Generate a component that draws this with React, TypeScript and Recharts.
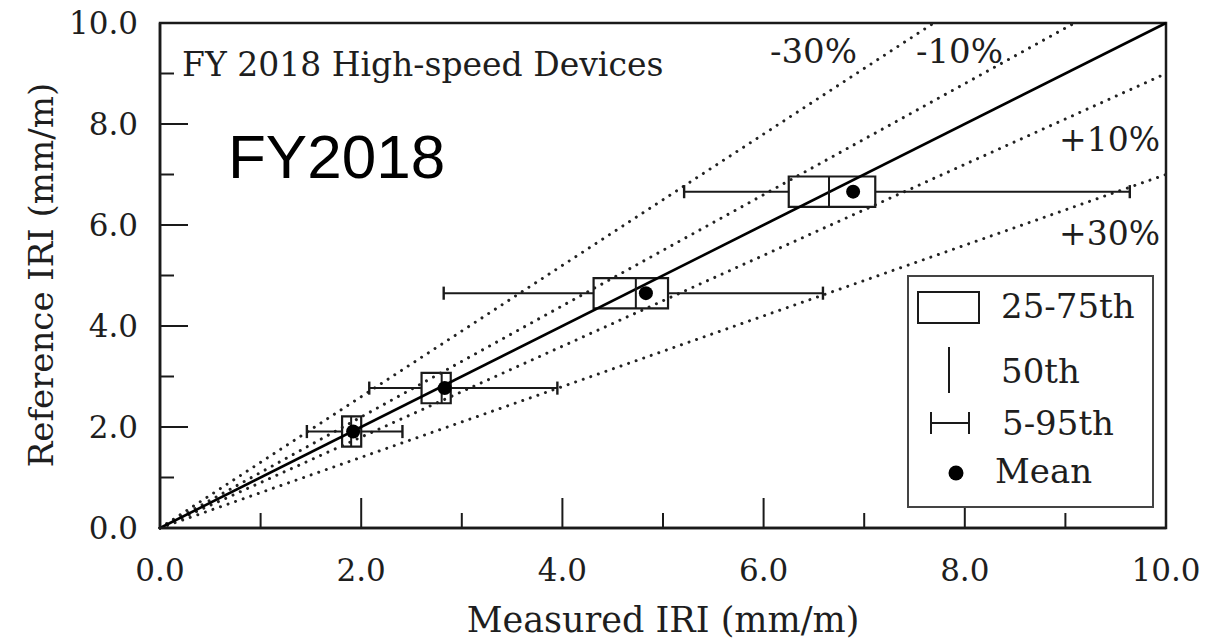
import React from 'react';
import {
  ComposedChart,
  XAxis,
  YAxis,
  Scatter,
  ReferenceLine,
  ReferenceArea,
  Legend,
  Customized,
} from 'recharts';

// Reference IRI (mean) for each bin, and the measured IRI statistics of the devices
const refMean = [1.91, 2.77, 4.65, 6.66];
const measP5 = [1.46, 2.08, 2.82, 5.21];
const measQ25 = [1.81, 2.6, 4.31, 6.25];
const measMedian = [1.9, 2.8, 4.73, 6.65];
const measQ75 = [2.0, 2.89, 5.05, 7.11];
const measP95 = [2.41, 3.95, 6.59, 9.64];
const measMean = [1.92, 2.83, 4.83, 6.89];

// Tolerance bands: reference = slope * measured
const bandLabels = ['-30%', '-10%', '+10%', '+30%'];
const bandSlopes = [1.3, 1.1, 0.9, 0.7];

const axisTicks = [0, 1, 2, 3, 4, 5, 6, 7, 8, 9, 10];
const tickLabels = ['0.0', '', '2.0', '', '4.0', '', '6.0', '', '8.0', '', '10.0'];

const BOX_HALF = 0.3; // half height of each box, in reference-IRI units
const CAP_HALF = 0.13; // half height of whisker caps

const SERIF = "'DejaVu Serif', 'Liberation Serif', serif";
const INK = '#1a1a1a';
const TEXT = '#1e1e1e';

const meanPoints = refMean.map((y, i) => ({ x: measMean[i], y }));

const bandEnds = bandSlopes.map((k) => (k >= 1 ? { x: 10 / k, y: 10 } : { x: 10, y: 10 * k }));

const tickLabel = (v: number) => tickLabels[axisTicks.indexOf(v)] ?? '';

const XTick = (props: any) => {
  const { x, y, payload } = props;
  const v = payload.value as number;
  const major = v % 2 === 0;
  return (
    <g>
      {v > 0 && v < 10 && (
        <line x1={x} x2={x} y1={y} y2={y - (major ? 30 : 15)} stroke={INK} strokeWidth={2} />
      )}
      {major && (
        <text x={x} y={y + 53} textAnchor="middle" fontFamily={SERIF} fontSize={31} fill={TEXT}>
          {tickLabel(v)}
        </text>
      )}
    </g>
  );
};

const YTick = (props: any) => {
  const { x, y, payload } = props;
  const v = payload.value as number;
  const major = v % 2 === 0;
  return (
    <g>
      {v > 0 && v < 10 && (
        <line x1={x} x2={x + (major ? 28 : 14)} y1={y} y2={y} stroke={INK} strokeWidth={2} />
      )}
      {major && (
        <text x={x - 22} y={y} dy="0.36em" textAnchor="end" fontFamily={SERIF} fontSize={31} fill={TEXT}>
          {tickLabel(v)}
        </text>
      )}
    </g>
  );
};

const LegendBox = () => (
  <svg width={247} height={233} style={{ display: 'block' }}>
    <rect x={1} y={1} width={245} height={231} fill="#fff" stroke="#444" strokeWidth={2} />
    <rect x={11} y={17} width={61} height={31} fill="none" stroke={INK} strokeWidth={2} />
    <text x={94} y={43} fontFamily={SERIF} fontSize={34} fill={TEXT}>25-75th</text>
    <line x1={42} x2={42} y1={72} y2={118} stroke={INK} strokeWidth={2} />
    <text x={94} y={108} fontFamily={SERIF} fontSize={34} fill={TEXT}>50th</text>
    <line x1={24} x2={62} y1={148} y2={148} stroke={INK} strokeWidth={2} />
    <line x1={24} x2={24} y1={137} y2={159} stroke={INK} strokeWidth={2} />
    <line x1={62} x2={62} y1={137} y2={159} stroke={INK} strokeWidth={2} />
    <text x={95} y={160} fontFamily={SERIF} fontSize={34} fill={TEXT}>5-95th</text>
    <circle cx={49} cy={198} r={7.5} fill="#000" />
    <text x={88} y={208} fontFamily={SERIF} fontSize={34} fill={TEXT}>Mean</text>
  </svg>
);

const Annotations = () => (
  <g>
    <text x={174} y={68} fontFamily={SERIF} fontSize={33} fill={TEXT}>FY 2018 High-speed Devices</text>
    <text x={220} y={170} fontFamily="'Liberation Sans', Arial, sans-serif" fontSize={62} fill="#000">
      FY2018
    </text>
    <text x={762} y={55} fontFamily={SERIF} fontSize={34} fill={TEXT}>{bandLabels[0]}</text>
    <text x={908} y={55} fontFamily={SERIF} fontSize={34} fill={TEXT}>{bandLabels[1]}</text>
    <text x={1152} y={143} textAnchor="end" fontFamily={SERIF} fontSize={33} fill={TEXT}>{bandLabels[2]}</text>
    <text x={1152} y={237} textAnchor="end" fontFamily={SERIF} fontSize={33} fill={TEXT}>{bandLabels[3]}</text>
    <text x={655} y={624} textAnchor="middle" fontFamily={SERIF} fontSize={35} fill={TEXT}>
      Measured IRI (mm/m)
    </text>
    <text
      x={0}
      y={0}
      transform="translate(45 267) rotate(-90)"
      textAnchor="middle"
      fontFamily={SERIF}
      fontSize={34}
      fill={TEXT}
    >
      Reference IRI (mm/m)
    </text>
  </g>
);

export default function App() {
  return (
    <div style={{ width: 1214, height: 633 }}>
      <ComposedChart
        width={1214}
        height={633}
        margin={{ top: 15, right: 56, bottom: 0, left: 0 }}
      >
        <XAxis
          type="number"
          dataKey="x"
          domain={[0, 10]}
          ticks={axisTicks}
          allowDataOverflow
          height={113}
          tickSize={0}
          tickMargin={0}
          tickLine={false}
          axisLine={{ stroke: INK, strokeWidth: 2.5 }}
          tick={XTick}
          interval={0}
        />
        <YAxis
          type="number"
          dataKey="y"
          domain={[0, 10]}
          ticks={axisTicks}
          allowDataOverflow
          width={152}
          tickSize={0}
          tickMargin={0}
          tickLine={false}
          axisLine={{ stroke: INK, strokeWidth: 2.5 }}
          tick={YTick}
          interval={0}
        />

        <ReferenceArea
          x1={0}
          x2={10}
          y1={0}
          y2={10}
          fill="none"
          stroke={INK}
          strokeWidth={2.5}
          ifOverflow="visible"
        />

        {bandEnds.map((end, i) => (
          <ReferenceLine
            key={`band-${i}`}
            segment={[{ x: 0, y: 0 }, end]}
            stroke="#222"
            strokeWidth={3}
            strokeDasharray="0.01 8"
            strokeLinecap="round"
            ifOverflow="visible"
          />
        ))}

        <ReferenceLine
          segment={[{ x: 0, y: 0 }, { x: 10, y: 10 }]}
          stroke="#000"
          strokeWidth={2.6}
          ifOverflow="visible"
        />

        {refMean.map((y, i) => (
          <ReferenceArea
            key={`box-${i}`}
            x1={measQ25[i]}
            x2={measQ75[i]}
            y1={y - BOX_HALF}
            y2={y + BOX_HALF}
            fill="none"
            fillOpacity={0}
            stroke={INK}
            strokeWidth={2.2}
            ifOverflow="visible"
          />
        ))}
        {refMean.map((y, i) => (
          <ReferenceLine
            key={`med-${i}`}
            segment={[{ x: measMedian[i], y: y - BOX_HALF }, { x: measMedian[i], y: y + BOX_HALF }]}
            stroke={INK}
            strokeWidth={2}
          />
        ))}
        {refMean.map((y, i) => (
          <ReferenceLine
            key={`wl-${i}`}
            segment={[{ x: measP5[i], y }, { x: measQ25[i], y }]}
            stroke={INK}
            strokeWidth={2}
          />
        ))}
        {refMean.map((y, i) => (
          <ReferenceLine
            key={`wr-${i}`}
            segment={[{ x: measQ75[i], y }, { x: measP95[i], y }]}
            stroke={INK}
            strokeWidth={2}
          />
        ))}
        {refMean.map((y, i) => (
          <ReferenceLine
            key={`cl-${i}`}
            segment={[{ x: measP5[i], y: y - CAP_HALF }, { x: measP5[i], y: y + CAP_HALF }]}
            stroke={INK}
            strokeWidth={2.4}
          />
        ))}
        {refMean.map((y, i) => (
          <ReferenceLine
            key={`cr-${i}`}
            segment={[{ x: measP95[i], y: y - CAP_HALF }, { x: measP95[i], y: y + CAP_HALF }]}
            stroke={INK}
            strokeWidth={2.4}
          />
        ))}

        <Scatter
          data={meanPoints}
          isAnimationActive={false}
          shape={(p: any) => <circle cx={p.cx} cy={p.cy} r={7} fill="#000" />}
        />

        <Customized component={Annotations} />

        <Legend
          layout="vertical"
          verticalAlign="middle"
          align="center"
          content={LegendBox}
          wrapperStyle={{ position: 'absolute', left: 899, top: 267, width: 247, height: 233 }}
        />
      </ComposedChart>
    </div>
  );
}
